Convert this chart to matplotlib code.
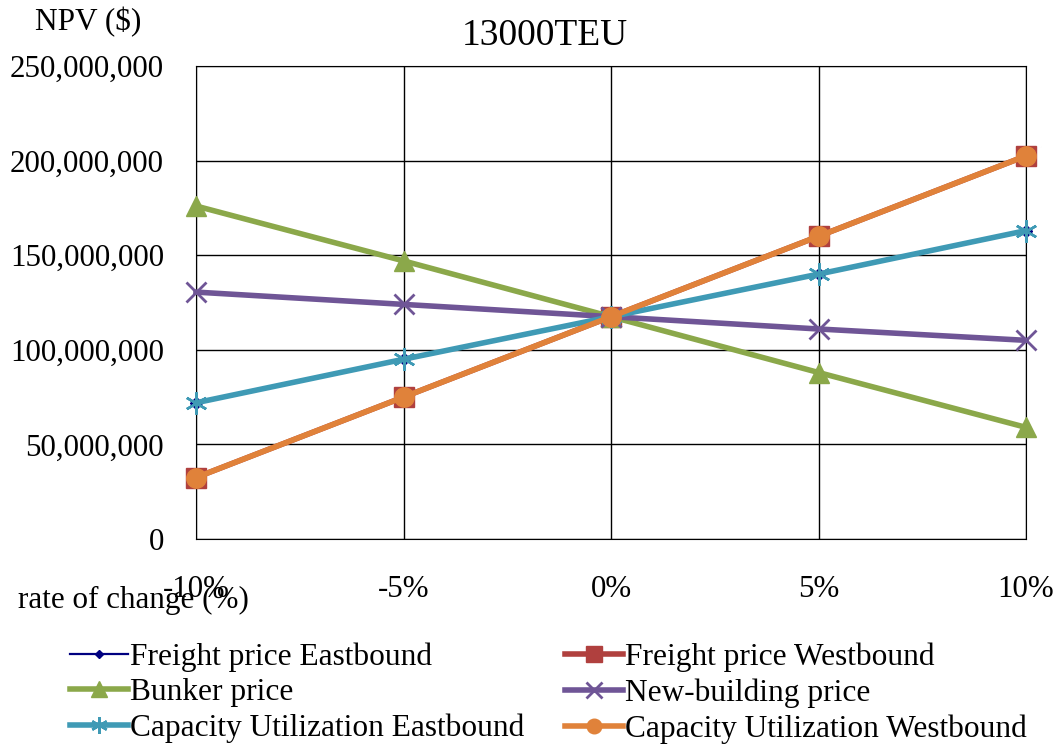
import numpy as np
import matplotlib.pyplot as plt
from matplotlib.ticker import FuncFormatter

plt.rcParams['font.family'] = ['Liberation Serif', 'DejaVu Serif']

# 数据
rate = [-10, -5, 0, 5, 10]
rate_labels = ['-10%', '-5%', '0%', '5%', '10%']
freight_east = [72e6, 95e6, 117.5e6, 140e6, 163e6]
freight_west = [32.5e6, 75e6, 117.5e6, 160e6, 202.5e6]
bunker = [176e6, 147e6, 117.5e6, 88e6, 59e6]
new_building = [130.5e6, 124e6, 117.5e6, 111e6, 105e6]
cap_east = [72e6, 95e6, 117.5e6, 140e6, 163e6]
cap_west = [32.5e6, 75e6, 117.5e6, 160e6, 202.5e6]

fig = plt.figure(figsize=(10.56, 7.45), dpi=100)
ax = fig.add_axes([196/1056, 1-539/745, (1026-196)/1056, (539-66)/745])

h1, = ax.plot(rate, freight_east, color='#000080', lw=1.6, marker='D', ms=6,
              label='Freight price Eastbound', clip_on=False, zorder=3)
h2, = ax.plot(rate, freight_west, color='#B0403E', lw=4, marker='s', ms=15,
              label='Freight price Westbound', clip_on=False, zorder=3)
h3, = ax.plot(rate, bunker, color='#8BA84A', lw=4, marker='^', ms=15,
              label='Bunker price', clip_on=False, zorder=3)
h4, = ax.plot(rate, new_building, color='#6F5596', lw=4, marker='x', ms=15, mew=2,
              label='New-building price', clip_on=False, zorder=3)
h5, = ax.plot(rate, cap_east, color='#3F9AB5', lw=4, marker=(6, 2, 0), ms=16, mew=1.8,
              label='Capacity Utilization Eastbound', clip_on=False, zorder=3)
h6, = ax.plot(rate, cap_west, color='#E0823A', lw=4, marker='o', ms=14,
              label='Capacity Utilization Westbound', clip_on=False, zorder=3)

ax.set_xlim(-10, 10)
ax.set_ylim(0, 250e6)
ax.set_xticks(rate)
ax.set_xticklabels(rate_labels)
ax.set_yticks(np.arange(0, 250e6 + 1, 50e6))
ax.yaxis.set_major_formatter(FuncFormatter(lambda v, p: f'{int(v):,}'))
ax.tick_params(axis='x', length=0, pad=26, labelsize=22.3)
ax.tick_params(axis='y', length=0, pad=23, labelsize=22.3)
ax.grid(True, color='black', lw=1)
for s in ax.spines.values():
    s.set_color('black')
ax.set_axisbelow(True)

fig.text(545/1056, 1-36/745, '13000TEU', fontsize=27, ha='center', va='center')
fig.text(88/1056, 1-22/745, 'NPV ($)', fontsize=22.5, ha='center', va='center')
fig.text(18/1056, 1-600/745, 'rate of change (%)', fontsize=22.4, ha='left', va='center')

fig.legend([h1, h3, h5, h2, h4, h6],
           [h.get_label() for h in [h1, h3, h5, h2, h4, h6]],
           ncol=2, loc='center', bbox_to_anchor=(548/1056, 1-693/745),
           frameon=False, fontsize=22.6, handlelength=1.86, handletextpad=0.05,
           columnspacing=1.3, labelspacing=0.2, markerscale=0.75,
           borderpad=0, borderaxespad=0)

fig.savefig('out.png', dpi=100)
